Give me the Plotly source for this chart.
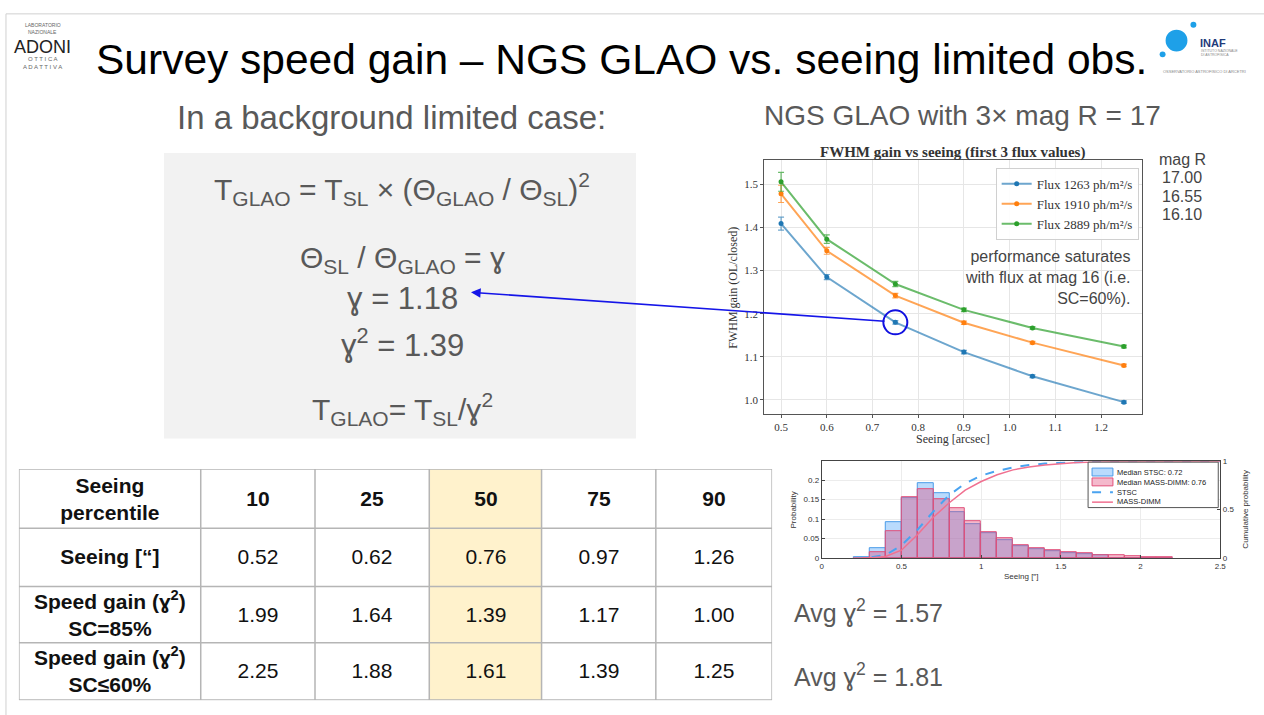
import plotly.graph_objects as go

W, H = 1264, 715

def fx(p):
    return p / W

def fy(p):
    return 1 - p / H

# ---------------- data ----------------
seeing_pts = [0.5, 0.6, 0.75, 0.9, 1.05, 1.25]
flux_names = ["Flux 1263 ph/m²/s", "Flux 1910 ph/m²/s", "Flux 2889 ph/m²/s"]
gain_1263 = [1.409, 1.285, 1.180, 1.111, 1.055, 0.995]
gain_1910 = [1.478, 1.346, 1.242, 1.179, 1.133, 1.080]
gain_2889 = [1.506, 1.373, 1.269, 1.209, 1.167, 1.124]
err_1263 = [0.015, 0.006, 0.004, 0.004, 0.003, 0.003]
err_1910 = [0.020, 0.008, 0.005, 0.004, 0.003, 0.003]
err_2889 = [0.022, 0.010, 0.006, 0.004, 0.003, 0.003]
mag_r = ["17.00", "16.55", "16.10"]

hist_bin_centers = [0.25, 0.35, 0.45, 0.55, 0.65, 0.75, 0.85, 0.95, 1.05, 1.15,
                    1.25, 1.35, 1.45, 1.55, 1.65, 1.75, 1.85, 1.95, 2.05, 2.15]
hist_stsc = [0.002, 0.024, 0.092, 0.154, 0.192, 0.167, 0.119, 0.088, 0.064, 0.045,
             0.031, 0.022, 0.017, 0.013, 0.010, 0.007, 0.0, 0.0, 0.0, 0.0]
hist_massdimm = [0.0, 0.015, 0.068, 0.156, 0.177, 0.150, 0.128, 0.094, 0.066, 0.051,
                 0.032, 0.025, 0.019, 0.014, 0.011, 0.008, 0.006, 0.004, 0.003, 0.002]
cdf_x = [0.2, 0.3, 0.4, 0.5, 0.6, 0.7, 0.8, 0.9, 1.0, 1.1, 1.2, 1.3, 1.4, 1.5, 1.6, 1.8, 2.0, 2.2, 2.5]
cdf_stsc = [0.0, 0.005, 0.03, 0.13, 0.29, 0.48, 0.65, 0.77, 0.85, 0.90, 0.935, 0.96, 0.975, 0.985, 0.99, 0.997, 1.0, 1.0, 1.0]
cdf_massdimm = [0.0, 0.0, 0.015, 0.08, 0.24, 0.42, 0.57, 0.70, 0.79, 0.86, 0.91, 0.94, 0.96, 0.975, 0.985, 0.993, 0.997, 1.0, 1.0]
hist_names = ["Median STSC: 0.72", "Median MASS-DIMM: 0.76", "STSC", "MASS-DIMM"]

table_header = ["Seeing<br>percentile", "10", "25", "50", "75", "90"]
row_labels = ["Seeing [“]", "Speed gain (ɣ<sup>2</sup>)<br>SC=85%", "Speed gain (ɣ<sup>2</sup>)<br>SC≤60%"]
seeing_vals = ["0.52", "0.62", "0.76", "0.97", "1.26"]
gain_sc85 = ["1.99", "1.64", "1.39", "1.17", "1.00"]
gain_sc60 = ["2.25", "1.88", "1.61", "1.39", "1.25"]
highlight_col = "50"

# ---------------- styles ----------------
SANS = "Liberation Sans, Arial, sans-serif"
SERIF = "Liberation Serif, DejaVu Serif, serif"
GRAY = "#595959"
C_BLUE, C_ORANGE, C_GREEN = "#1f77b4", "#ff7f0e", "#2ca02c"
C_BLUE_L, C_ORANGE_L, C_GREEN_L = "rgba(31,119,180,0.65)", "rgba(255,127,14,0.7)", "rgba(44,160,44,0.7)"
BAR_B_FILL, BAR_B_LINE = "rgba(100,175,250,0.45)", "#4a9be8"
BAR_R_FILL, BAR_R_LINE = "rgba(225,70,120,0.38)", "#e0507a"
CDF_B, CDF_R = "#4aa3f0", "#f07090"

fig = go.Figure()

# ---------------- FWHM gain chart ----------------
for name, ys, es, c, cl in [
    (flux_names[0], gain_1263, err_1263, C_BLUE, C_BLUE_L),
    (flux_names[1], gain_1910, err_1910, C_ORANGE, C_ORANGE_L),
    (flux_names[2], gain_2889, err_2889, C_GREEN, C_GREEN_L),
]:
    fig.add_trace(go.Scatter(
        x=seeing_pts, y=ys, name=name, mode="lines+markers",
        line=dict(color=cl, width=2), marker=dict(color=c, size=5),
        error_y=dict(type="data", array=es, color=cl, thickness=1.2, width=3),
        xaxis="x", yaxis="y", legend="legend",
    ))

# ---------------- histogram ----------------
fig.add_trace(go.Bar(
    x=hist_bin_centers, y=hist_stsc, width=0.1, name=hist_names[0],
    marker=dict(color=BAR_B_FILL, line=dict(color=BAR_B_LINE, width=1)),
    xaxis="x2", yaxis="y2", showlegend=False,
))
fig.add_trace(go.Bar(
    x=hist_bin_centers, y=hist_massdimm, width=0.1, name=hist_names[1],
    marker=dict(color=BAR_R_FILL, line=dict(color=BAR_R_LINE, width=1)),
    xaxis="x2", yaxis="y2", showlegend=False,
))
fig.add_trace(go.Scatter(
    x=cdf_x, y=cdf_stsc, name=hist_names[2], mode="lines",
    line=dict(color=CDF_B, width=2, dash="dash"),
    xaxis="x2", yaxis="y3", showlegend=False,
))
fig.add_trace(go.Scatter(
    x=cdf_x, y=cdf_massdimm, name=hist_names[3], mode="lines",
    line=dict(color=CDF_R, width=1.5),
    xaxis="x2", yaxis="y3", showlegend=False,
))

# ---------------- table (heatmap grid) ----------------
COL_EDGES = [0, 183, 298, 413, 526, 641, 758]
ROW_EDGES = [0, 60, 119, 176, 234]
text_grid = [
    ["<b>" + table_header[0] + "</b>"] + ["<b>" + h + "</b>" for h in table_header[1:]],
    ["<b>" + row_labels[0] + "</b>"] + seeing_vals,
    ["<b>" + row_labels[1] + "</b>"] + gain_sc85,
    ["<b>" + row_labels[2] + "</b>"] + gain_sc60,
]
z_grid = [[1 if table_header[j] == highlight_col else 0 for j in range(len(table_header))]
          for _ in range(4)]
fig.add_trace(go.Heatmap(
    x=COL_EDGES, y=ROW_EDGES, z=z_grid, text=text_grid, texttemplate="%{text}",
    textfont=dict(family=SANS, size=21, color="#111111"),
    colorscale=[[0, "#ffffff"], [1, "#fff2cc"]], showscale=False, hoverinfo="skip",
    xaxis="x3", yaxis="y4", zmin=0, zmax=1,
))

shapes = []
# slide frame
shapes.append(dict(type="rect", xref="paper", yref="paper", x0=fx(4), x1=fx(1300), y0=fy(760), y1=fy(10),
                   line=dict(color="#d0d0d0", width=1), layer="below"))
# grey formula box
shapes.append(dict(type="rect", xref="paper", yref="paper", x0=fx(163), x1=fx(638), y0=fy(440), y1=fy(151),
                   fillcolor="#f2f2f2", line=dict(width=0), layer="below"))
# table grid lines
for e in COL_EDGES:
    shapes.append(dict(type="line", xref="x3", yref="y4", x0=e, x1=e, y0=ROW_EDGES[0], y1=ROW_EDGES[-1],
                       line=dict(color="#b5b5b5", width=1.5), layer="above"))
for e in ROW_EDGES:
    shapes.append(dict(type="line", xref="x3", yref="y4", x0=COL_EDGES[0], x1=COL_EDGES[-1], y0=e, y1=e,
                       line=dict(color="#b5b5b5", width=1.5), layer="above"))
# blue circle on the 0.75" point of the faintest flux
shapes.append(dict(type="circle", xref="x", yref="y", xsizemode="pixel", ysizemode="pixel",
                   xanchor=seeing_pts[2], yanchor=gain_1263[2], x0=-12, x1=12, y0=-12, y1=12,
                   line=dict(color="#1010e0", width=2)))
# INAF logo circles
for cx, cy, r in [(1182, 37, 11), (1199, 21, 3), (1168, 51, 3)]:
    shapes.append(dict(type="circle", xref="paper", yref="paper", x0=fx(cx - r), x1=fx(cx + r),
                       y0=fy(cy + r), y1=fy(cy - r), fillcolor="#1ea0e8", line=dict(width=0)))

# histogram legend (compact, MATLAB-like)
shapes.append(dict(type="rect", xref="paper", yref="paper", x0=fx(1093), x1=fx(1224), y0=fy(510), y1=fy(464),
                   fillcolor="white", line=dict(color="#555555", width=1)))
shapes.append(dict(type="rect", xref="paper", yref="paper", x0=fx(1097), x1=fx(1118), y0=fy(478), y1=fy(470),
                   fillcolor=BAR_B_FILL, line=dict(color=BAR_B_LINE, width=1)))
shapes.append(dict(type="rect", xref="paper", yref="paper", x0=fx(1097), x1=fx(1118), y0=fy(488), y1=fy(480),
                   fillcolor=BAR_R_FILL, line=dict(color=BAR_R_LINE, width=1)))
shapes.append(dict(type="line", xref="paper", yref="paper", x0=fx(1097), x1=fx(1118), y0=fy(494.5), y1=fy(494.5),
                   line=dict(color=CDF_B, width=2, dash="dash")))
shapes.append(dict(type="line", xref="paper", yref="paper", x0=fx(1097), x1=fx(1118), y0=fy(504.5), y1=fy(504.5),
                   line=dict(color=CDF_R, width=1.5)))

ann = []

def T(text, x, y, size, color=GRAY, family=SANS, xanchor="center", yanchor="middle", align="center", **kw):
    ann.append(dict(text=text, x=fx(x), y=fy(y), xref="paper", yref="paper", showarrow=False,
                    font=dict(family=family, size=size, color=color), xanchor=xanchor, yanchor=yanchor,
                    align=align, **kw))

for i, nm in enumerate(hist_names):
    T(nm, 1120, 474.3 + 10 * i, 7.5, color="#222222", xanchor="left")

# title + subtitles
T("Survey speed gain – NGS GLAO vs. seeing limited obs.", 93, 56, 42.5, color="#000000", xanchor="left")
T("In a background limited case:", 174, 115, 33, xanchor="left")
T("NGS GLAO with 3× mag R = 17", 765, 113, 28, xanchor="left")

# formulas
T("T<sub>GLAO</sub> = T<sub>SL</sub> × (Θ<sub>GLAO</sub> / Θ<sub>SL</sub>)<sup>2</sup>", 403, 187, 30)
T("Θ<sub>SL</sub> / Θ<sub>GLAO</sub> = ɣ", 403, 259, 30)
T("ɣ = 1.18", 403, 298, 31)
T("ɣ<sup>2</sup> = 1.39", 403, 343, 31)
T("T<sub>GLAO</sub>= T<sub>SL</sub>/ɣ<sup>2</sup>", 403, 410, 30)

# chart title / axis titles
T("<b>FWHM gain vs seeing (first 3 flux values)</b>", 957, 150, 15, color="#333333", family=SERIF)
T("FWHM gain (OL/closed)", 736, 287, 12, color="#333333", family=SERIF, textangle=-90)
T("Seeing [arcsec]", 957, 441, 12, color="#333333", family=SERIF)

# side annotations
T("performance saturates<br>with flux at mag 16 (i.e.<br>SC=60%).", 1138, 277, 16, color="#444444",
  xanchor="right", align="right")
T("mag R", 1162, 157, 16, color="#444444", xanchor="left")
for i, m in enumerate(mag_r):
    T(m, 1165, 176 + 18.5 * i, 16, color="#444444", xanchor="left")

# histogram axis titles
T("Probability", 797, 512, 8, color="#333333", textangle=-90)
T("Cumulative probability", 1251, 512, 8, color="#333333", textangle=-90)
T("Seeing [″]", 1025, 580, 8, color="#333333")

# averages
T("Avg ɣ<sup>2</sup> = 1.57", 795, 615, 25, xanchor="left")
T("Avg ɣ<sup>2</sup> = 1.81", 795, 680, 25, xanchor="left")

# ADONI logo
T("LABORATORIO", 41, 21, 5, color="#666666")
T("NAZIONALE", 41, 28, 5, color="#666666")
T("ADONI", 41, 44, 18, color="#222222")
T("O T T I C A", 41, 56, 6, color="#666666")
T("A D A T T I V A", 41, 64, 6, color="#666666")

# INAF logo
T("<b>INAF</b>", 1204, 40, 11, color="#1f3b7a", xanchor="left")
T("ISTITUTO NAZIONALE", 1205, 48, 3.5, color="#888888", xanchor="left")
T("DI ASTROFISICA", 1205, 52, 3.5, color="#888888", xanchor="left")
T("OSSERVATORIO ASTROFISICO DI ARCETRI", 1210, 68, 4, color="#888888")

# arrow from the circled point to gamma value
ann.append(dict(x=fx(472), y=fy(292), xref="paper", yref="paper", ax=887 - 472, ay=321 - 292,
                axref="pixel", ayref="pixel", showarrow=True, arrowhead=2, arrowsize=1.2,
                arrowwidth=1.6, arrowcolor="#1515e8", text=""))

fig.update_layout(
    width=W, height=H, margin=dict(l=0, r=0, t=0, b=0),
    paper_bgcolor="white", plot_bgcolor="white",
    barmode="overlay", bargap=0,
    shapes=shapes, annotations=ann,
    xaxis=dict(domain=[fx(767), fx(1147)], range=[0.463, 1.289], tickvals=[0.5, 0.6, 0.7, 0.8, 0.9, 1.0, 1.1, 1.2],
               tickformat=".1f", showgrid=True, gridcolor="#e6e6e6", showline=True, mirror=True,
               linecolor="#555555", linewidth=1, ticks="outside", ticklen=3, tickcolor="#555555",
               tickfont=dict(family=SERIF, size=11, color="#333333"), zeroline=False),
    yaxis=dict(domain=[fy(415), fy(158)], range=[0.968, 1.5565], tickvals=[1.0, 1.1, 1.2, 1.3, 1.4, 1.5],
               tickformat=".1f", showgrid=True, gridcolor="#e6e6e6", showline=True, mirror=True,
               linecolor="#555555", linewidth=1, ticks="outside", ticklen=3, tickcolor="#555555",
               tickfont=dict(family=SERIF, size=11, color="#333333"), zeroline=False),
    xaxis2=dict(domain=[fx(825), fx(1226)], range=[0, 2.5], tickvals=[0, 0.5, 1, 1.5, 2, 2.5],
                ticktext=["0", "0.5", "1", "1.5", "2", "2.5"],
                showgrid=True, gridcolor="#ececec", showline=True, mirror=True, linecolor="#444444",
                linewidth=1, ticks="inside", ticklen=3, tickfont=dict(family=SANS, size=8, color="#333333"),
                zeroline=False, anchor="y2"),
    yaxis2=dict(domain=[fy(561), fy(463)], range=[0, 0.249], tickvals=[0, 0.05, 0.1, 0.15, 0.2],
                ticktext=["0", "0.05", "0.1", "0.15", "0.2"], showgrid=True, gridcolor="#ececec",
                showline=True, linecolor="#444444", linewidth=1, ticks="inside", ticklen=3,
                tickfont=dict(family=SANS, size=8, color="#333333"), zeroline=False, anchor="x2"),
    yaxis3=dict(overlaying="y2", side="right", range=[0, 1], tickvals=[0, 0.5, 1], ticktext=["0", "0.5", "1"],
                showgrid=False, showline=True, linecolor="#444444", linewidth=1, ticks="inside", ticklen=3,
                tickfont=dict(family=SANS, size=8, color="#333333"), zeroline=False, anchor="x2"),
    xaxis3=dict(domain=[fx(17), fx(775)], range=[COL_EDGES[0], COL_EDGES[-1]], visible=False, anchor="y4"),
    yaxis4=dict(domain=[fy(705), fy(471)], range=[ROW_EDGES[-1], ROW_EDGES[0]], visible=False, anchor="x3"),
    legend=dict(x=fx(1000), y=fy(166), xanchor="left", yanchor="top", bgcolor="rgba(255,255,255,0.9)",
                bordercolor="#d0d0d0", borderwidth=1, font=dict(family=SERIF, size=13, color="#333333"),
                tracegroupgap=0, itemwidth=30),
    showlegend=True,
)

fig.write_html("out.html", config={"displayModeBar": False},
               post_script="document.body.style.margin='0';document.body.style.overflow='hidden';")
